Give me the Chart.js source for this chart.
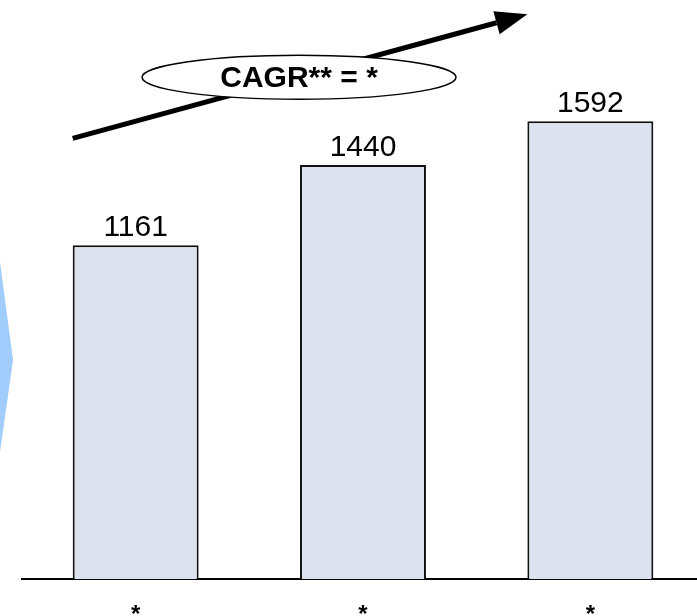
<!DOCTYPE html>
<html>
<head>
<meta charset="utf-8">
<script src="https://cdn.jsdelivr.net/npm/chart.js@4/dist/chart.umd.min.js"></script>
<style>
  html, body { margin: 0; padding: 0; overflow: hidden; background: #fff; }
  canvas { display: block; }
</style>
</head>
<body>
<canvas id="growthChart" width="704" height="652"></canvas>
<script>
const categories = ["*", "*", "*"]
const values = [1161, 1440, 1592]
const cagrLabel = "CAGR** = *"

const fontFamily = "'Liberation Sans', Arial, sans-serif"

// value labels, CAGR arrow and the blue chevron on the left
const annotations = {
    id: "annotations",
    afterDatasetsDraw(chart) {
        const ctx = chart.ctx
        const bars = chart.getDatasetMeta(0).data

        ctx.save()
        // chevron
        ctx.fillStyle = "#a0cdfc"
        ctx.beginPath()
        ctx.moveTo(0, 262)
        ctx.lineTo(13, 360)
        ctx.lineTo(0, 452)
        ctx.closePath()
        ctx.fill()

        // numbers above bars
        ctx.fillStyle = "#000"
        ctx.font = "30px " + fontFamily
        ctx.textAlign = "center"
        ctx.textBaseline = "alphabetic"
        bars.forEach((bar, i) => {
            ctx.fillText(values[i], bar.x, bar.y - 9)
        })

        // arrow
        const first = bars[0], last = bars[bars.length - 1]
        const x0 = first.x - first.width / 2, y0 = first.y - 107
        const x1 = last.x - last.width / 2, y1 = last.y - 107
        const ang = Math.atan2(y1 - y0, x1 - x0)
        const headLen = 32, headW = 12
        const bx = x1 - headLen * Math.cos(ang), by = y1 - headLen * Math.sin(ang)
        ctx.strokeStyle = "#000"
        ctx.lineWidth = 5
        ctx.beginPath()
        ctx.moveTo(x0, y0)
        ctx.lineTo(bx, by)
        ctx.stroke()
        ctx.beginPath()
        ctx.moveTo(x1, y1)
        ctx.lineTo(bx + headW * Math.sin(ang), by - headW * Math.cos(ang))
        ctx.lineTo(bx - headW * Math.sin(ang), by + headW * Math.cos(ang))
        ctx.closePath()
        ctx.fill()

        // ellipse with CAGR text
        const cx = (x0 + x1) / 2 - 1, cy = (y0 + y1) / 2 + 1
        ctx.beginPath()
        ctx.ellipse(cx, cy, 157, 22, 0, 0, Math.PI * 2)
        ctx.fillStyle = "#fff"
        ctx.fill()
        ctx.lineWidth = 1.5
        ctx.stroke()
        ctx.fillStyle = "#000"
        ctx.font = "bold 30px " + fontFamily
        ctx.textBaseline = "middle"
        ctx.fillText(cagrLabel, cx, cy + 1)
        ctx.restore()
    }
}

const ctx = document.getElementById("growthChart")
const growthChart = new Chart(ctx, {
    type: "bar",
    data: {
        labels: categories,
        datasets: [{
            data: values,
            backgroundColor: "#dde3ee",
            borderColor: "#111",
            borderWidth: 2,
            categoryPercentage: 0.554,
            barPercentage: 1
        }]
    },
    options: {
        responsive: false,
        animation: false,
        layout: { padding: { left: 22, right: 0, top: 4, bottom: 0 } },
        plugins: { legend: { display: false }, tooltip: { enabled: false } },
        scales: {
            x: {
                grid: { display: false, drawTicks: false },
                border: { display: true, color: "#000", width: 2 },
                ticks: {
                    color: "#000",
                    padding: 22,
                    font: { family: fontFamily, size: 24, weight: "bold" }
                }
            },
            y: {
                display: false,
                min: 0,
                max: 2000
            }
        }
    },
    plugins: [annotations]
});
</script>
</body>
</html>
